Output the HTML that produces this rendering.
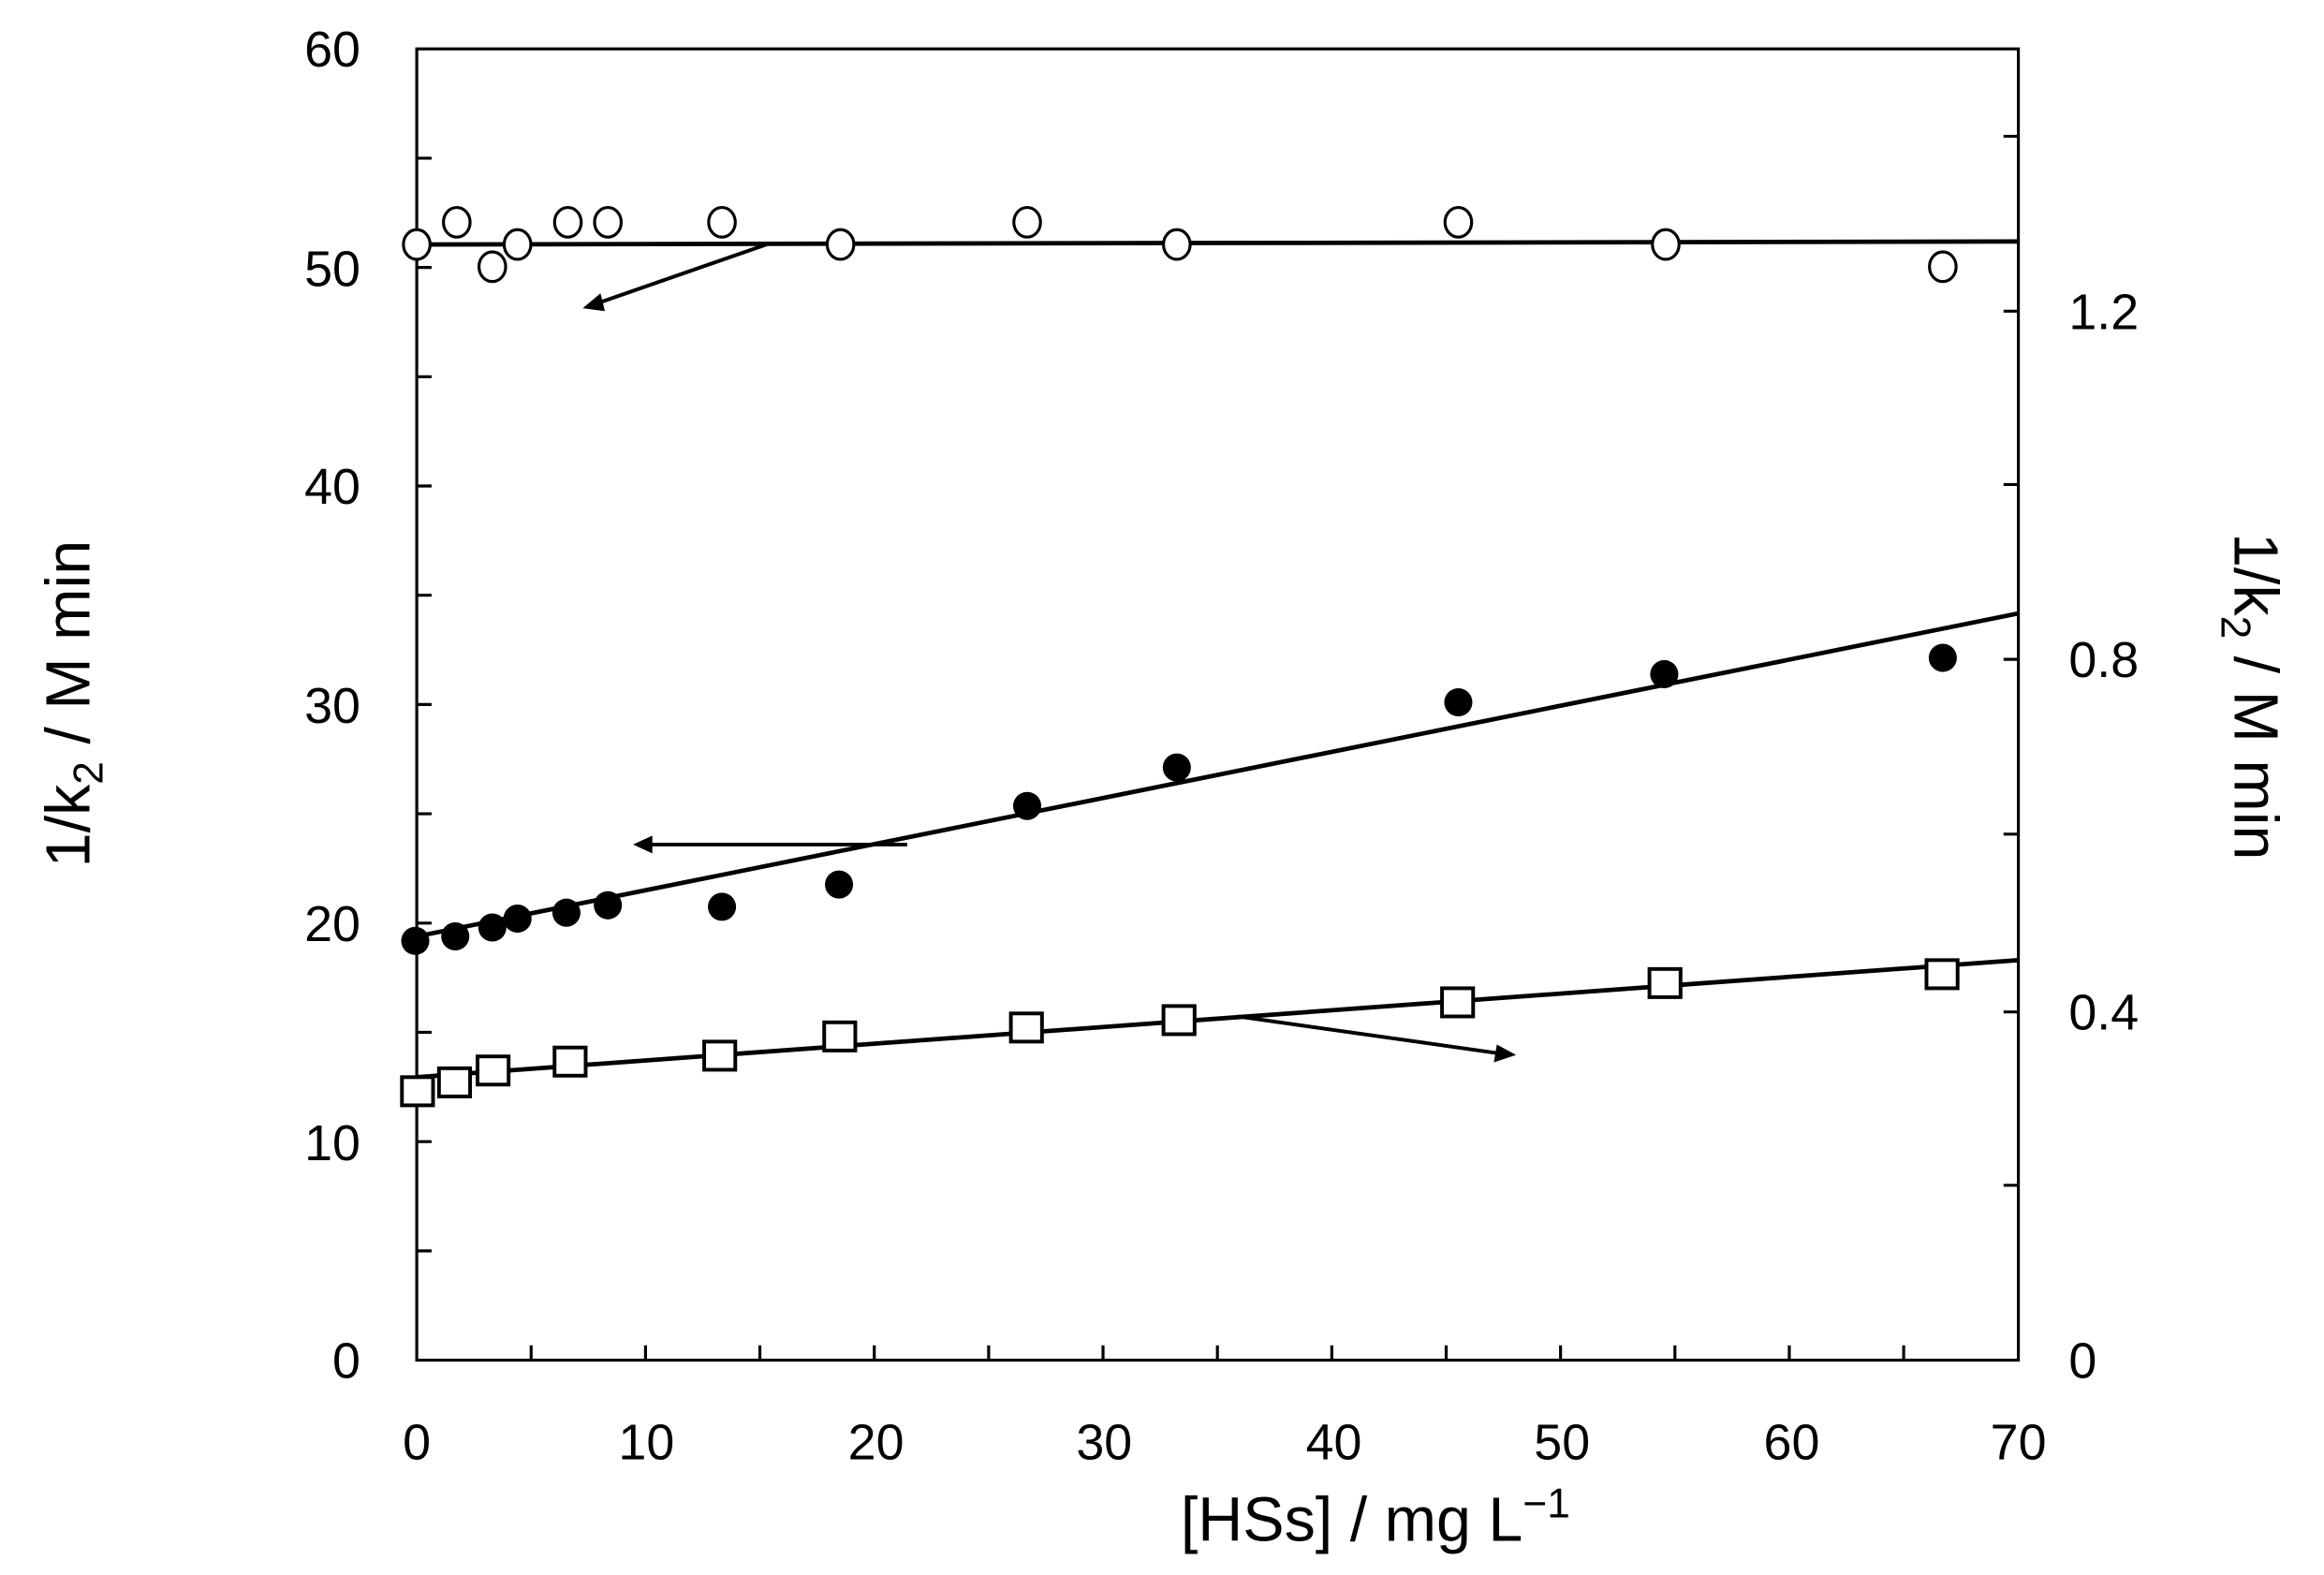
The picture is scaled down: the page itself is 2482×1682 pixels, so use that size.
<!DOCTYPE html>
<html><head><style>html,body{margin:0;padding:0;background:#fff}svg{display:block}</style></head>
<body>
<svg width="2482" height="1682" viewBox="0 0 1568 1063" xmlns="http://www.w3.org/2000/svg" font-family="Liberation Sans, DejaVu Sans, sans-serif">
<rect width="1568" height="1063" fill="#fff"/>
<g stroke="#000" stroke-width="2" fill="none">
<rect x="281" y="33" width="1081" height="885"/>
<path d="M281 844.25h10M281 770.5h10M281 696.75h10M281 623h10M281 549.25h10M281 475.5h10M281 401.75h10M281 328h10M281 254.25h10M281 180.5h10M281 106.75h10"/>
<path d="M358.2 918v-10M435.4 918v-10M512.6 918v-10M589.8 918v-10M667 918v-10M744.2 918v-10M821.4 918v-10M898.6 918v-10M975.8 918v-10M1053 918v-10M1130.2 918v-10M1207.4 918v-10M1284.6 918v-10"/>
<path d="M1362 800h-10M1362 683h-10M1362 563h-10M1362 445h-10M1362 327h-10M1362 210h-10M1362 92h-10"/>
<path d="M281 165L1362 163" stroke-width="3"/>
<path d="M281 632L1362 414" stroke-width="3"/>
<path d="M281 727L1362 648" stroke-width="3"/>
<path d="M517 165L402 205" stroke-width="2.5"/>
<path d="M612 570L438 570" stroke-width="2.5"/>
<path d="M835 686L1012 711" stroke-width="2.5"/>
</g>
<g fill="#000">
<polygon points="393,208 405,198 408,210"/>
<polygon points="427,570 440,564 440,576"/>
<polygon points="1023,712 1010,705 1008,717"/>
</g>
<g stroke="#000" stroke-width="2" fill="#fff">
<ellipse cx="281" cy="165" rx="9" ry="10"/><ellipse cx="308" cy="150" rx="9" ry="10"/><ellipse cx="332" cy="180" rx="9" ry="10"/><ellipse cx="349" cy="165" rx="9" ry="10"/><ellipse cx="383" cy="150" rx="9" ry="10"/><ellipse cx="410" cy="150" rx="9" ry="10"/><ellipse cx="487" cy="150" rx="9" ry="10"/><ellipse cx="567" cy="165" rx="9" ry="10"/><ellipse cx="693" cy="150" rx="9" ry="10"/><ellipse cx="794" cy="165" rx="9" ry="10"/><ellipse cx="984" cy="150" rx="9" ry="10"/><ellipse cx="1124" cy="165" rx="9" ry="10"/><ellipse cx="1311" cy="180" rx="9" ry="10"/>
</g>
<g fill="#000">
<ellipse cx="280" cy="635" rx="9.5" ry="9.5"/><ellipse cx="307" cy="632" rx="9.5" ry="9.5"/><ellipse cx="332" cy="626" rx="9.5" ry="9.5"/><ellipse cx="349" cy="620" rx="9.5" ry="9.5"/><ellipse cx="382" cy="616" rx="9.5" ry="9.5"/><ellipse cx="410" cy="611" rx="9.5" ry="9.5"/><ellipse cx="487" cy="612" rx="9.5" ry="9.5"/><ellipse cx="566" cy="597" rx="9.5" ry="9.5"/><ellipse cx="693" cy="544" rx="9.5" ry="9.5"/><ellipse cx="794" cy="518" rx="9.5" ry="9.5"/><ellipse cx="984" cy="474" rx="9.5" ry="9.5"/><ellipse cx="1123" cy="455" rx="9.5" ry="9.5"/><ellipse cx="1311" cy="444" rx="9.5" ry="9.5"/>
</g>
<g stroke="#000" stroke-width="2.5" fill="#fff">
<rect x="271" y="727" width="21" height="19"/><rect x="296" y="721" width="21" height="19"/><rect x="322" y="713" width="21" height="19"/><rect x="374" y="707" width="21" height="19"/><rect x="475" y="703" width="21" height="19"/><rect x="556" y="690" width="21" height="19"/><rect x="682" y="684" width="21" height="19"/><rect x="785" y="679" width="21" height="19"/><rect x="973" y="667" width="21" height="19"/><rect x="1113" y="654" width="21" height="19"/><rect x="1300" y="648" width="21" height="19"/>
</g>
<g font-size="34" fill="#000" text-anchor="end">
<text x="243" y="45">60</text><text x="243" y="193">50</text><text x="243" y="340">40</text><text x="243" y="488">30</text><text x="243" y="635">20</text><text x="243" y="783">10</text><text x="243" y="930">0</text>
</g>
<g font-size="34" fill="#000" text-anchor="middle">
<text x="281" y="985">0</text><text x="436" y="985">10</text><text x="591" y="985">20</text><text x="745" y="985">30</text><text x="900" y="985">40</text><text x="1054" y="985">50</text><text x="1209" y="985">60</text><text x="1362" y="985">70</text>
</g>
<g font-size="34" fill="#000">
<text x="1396" y="222">1.2</text><text x="1396" y="457">0.8</text><text x="1396" y="695">0.4</text><text x="1396" y="930">0</text>
</g>
<text x="928" y="1040" font-size="42" text-anchor="middle">[HSs] / mg L<tspan font-size="28" dy="-16">−1</tspan></text>
<text transform="translate(60,475) rotate(-90)" font-size="42" text-anchor="middle">1/k<tspan font-size="28" dy="9">2</tspan><tspan dy="-9"> / M min</tspan></text>
<text transform="translate(1508,470) rotate(90)" font-size="42" text-anchor="middle">1/k<tspan font-size="28" dy="9">2</tspan><tspan dy="-9"> / M min</tspan></text>
</svg>
</body></html>
